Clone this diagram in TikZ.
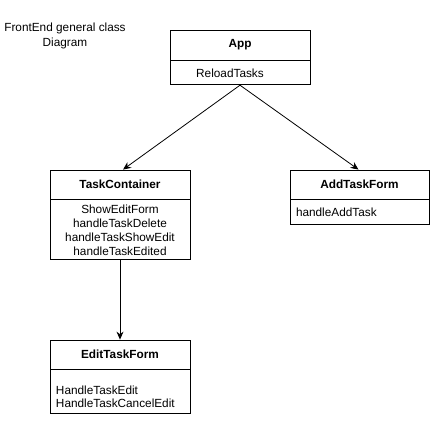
\documentclass[tikz,border=0pt]{standalone}
\usepackage{fontspec}
\setmainfont{Liberation Sans}
\usetikzlibrary{arrows.meta}

\begin{document}
\begin{tikzpicture}[x=1pt,y=-1pt,line width=0.8pt,
		classname/.style={draw, minimum width=140pt, minimum height=29pt, inner sep=0pt, font=\fontsize{11.8}{14}\selectfont\bfseries},
		classbody/.style={draw, minimum width=140pt, inner sep=0pt, font=\fontsize{11.8}{14}\selectfont},
		methods/.style={inner sep=0pt, align=left, font=\fontsize{11.8}{12.8}\selectfont},
		umlarrow/.style={-{Stealth[length=8pt,width=7pt]}}]
		\useasboundingbox (0,0) rectangle (432,422);
		\node [align=center, font=\fontsize{11.8}{15}\selectfont](title)at (65,35.5) {FrontEnd general class\\Diagram};
		\node [classname, minimum height=30pt](app)at (240,45) {App};
		\node [classbody, minimum height=24pt, anchor=north](appbody)at (app.south) {};
		\node [methods](reload)at ([xshift=-10pt]appbody.center) {ReloadTasks};
		\node [classname](cont)at (120,184.5) {TaskContainer};
		\node [classbody, minimum height=60pt, anchor=north, align=center](contbody)at (cont.south) {ShowEditForm\\handleTaskDelete\\handleTaskShowEdit\\handleTaskEdited};
		\node [classname, minimum width=139pt](add)at (359.5,184.5) {AddTaskForm};
		\node [classbody, minimum width=139pt, minimum height=25pt, anchor=north](addbody)at (add.south) {};
		\node [methods, anchor=west](addmeth)at ([xshift=6pt]addbody.west) {handleAddTask};
		\node [classname](edit)at (120,354.5) {EditTaskForm};
		\node [classbody, minimum height=44pt, anchor=north](editbody)at (edit.south) {};
		\node [methods, anchor=north west](editmeth)at ([shift={(6,16)}]editbody.north west) {HandleTaskEdit\\HandleTaskCancelEdit};
		\draw [umlarrow](appbody.south)--([xshift=3pt]cont.north);
		\draw [umlarrow](appbody.south)--([xshift=-1pt]add.north);
		\draw [umlarrow](contbody.south)--(edit.north);
	\end{tikzpicture}
\end{document}
